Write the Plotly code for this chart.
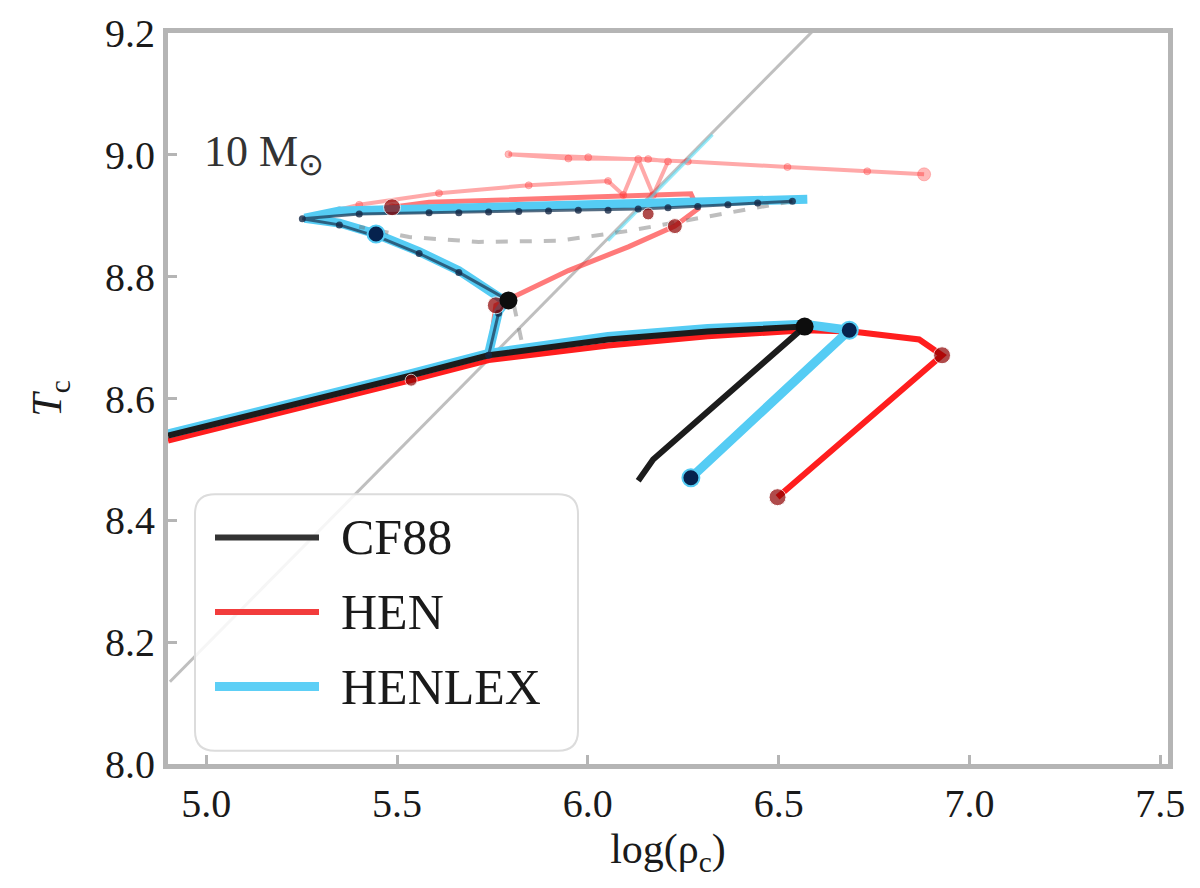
import plotly.graph_objects as go

# ---------------- data (log rho_c, log T_c) ----------------
deg_logrho = [4.905, 6.60]
deg_logT = [8.135, 9.21]

# CF88 (black)
cf_low_x = [6.132, 6.171, 6.568, 6.314, 6.053, 5.845, 5.740, 5.532, 5.271, 4.900]
cf_low_y = [8.465, 8.500, 8.718, 8.710, 8.697, 8.681, 8.671, 8.637, 8.596, 8.539]
cf_up_x = [5.740, 5.766, 5.792, 5.662, 5.558, 5.453, 5.349, 5.252, 5.401, 5.584, 5.662,
           5.740, 5.819, 5.897, 5.975, 6.053, 6.132, 6.210, 6.288, 6.367, 6.445, 6.536]
cf_up_y = [8.671, 8.740, 8.761, 8.807, 8.838, 8.865, 8.885, 8.895, 8.903, 8.905, 8.905,
           8.906, 8.907, 8.908, 8.909, 8.909, 8.911, 8.913, 8.915, 8.918, 8.921, 8.924]
cf_faint_x = [6.536, 6.314, 6.106, 5.923, 5.714, 5.532, 5.401, None, 5.806, 5.832]
cf_faint_y = [8.924, 8.898, 8.875, 8.859, 8.857, 8.865, 8.882, None, 8.754, 8.678]
cf_dot_x = [6.568, 5.792]
cf_dot_y = [8.718, 8.761]

# HENLEX (light blue)
hx_low_x = [6.270, 6.685, 6.568, 6.314, 6.053, 5.845, 5.740, 5.532, 5.271, 4.900]
hx_low_y = [8.470, 8.712, 8.722, 8.715, 8.702, 8.684, 8.674, 8.640, 8.599, 8.542]
hx_up_x = [5.740, 5.766, 5.785, 5.662, 5.558, 5.445, 5.349, 5.258, 5.349, 5.532, 5.792, 6.053, 6.314, 6.575]
hx_up_y = [8.674, 8.743, 8.759, 8.810, 8.841, 8.870, 8.888, 8.896, 8.908, 8.911, 8.913, 8.916, 8.922, 8.927]
hx_faint_x = [6.053, 6.327]
hx_faint_y = [8.859, 9.033]
hx_dot_x = [6.270, 6.685, 5.445]
hx_dot_y = [8.470, 8.712, 8.870]

# HEN (red)
hen_low_x = [6.497, 6.928, 6.868, 6.784, 6.693, 6.568, 6.314, 6.053, 5.845, 5.740, 5.537, 5.271, 4.900]
hen_low_y = [8.438, 8.671, 8.697, 8.704, 8.710, 8.712, 8.702, 8.687, 8.671, 8.663, 8.630, 8.588, 8.531]
hen_up_x = [5.740, 5.759, 5.949, 6.106, 6.228, 6.288, 6.270, 6.053, 5.792, 5.584, 5.487]
hen_up_y = [8.663, 8.753, 8.810, 8.849, 8.883, 8.911, 8.936, 8.931, 8.927, 8.922, 8.914]
hen_faint_x = [5.487, 5.349, 5.271, 5.401, 5.610, 5.845, 6.053, 6.093, 6.132, 6.171, 6.210,
               6.158, 5.949, 5.792, 6.001, 6.262, 6.523, 6.732, 6.881]
hen_faint_y = [8.914, 8.909, 8.898, 8.918, 8.937, 8.950, 8.957, 8.934, 8.993, 8.934, 8.989,
               8.993, 8.994, 9.001, 8.996, 8.989, 8.980, 8.973, 8.968]
hen_faint_size = [7] * 18 + [13]
hen_dot_x = [6.497, 6.928, 5.759, 6.228, 6.158, 5.487, 5.537]
hen_dot_y = [8.438, 8.671, 8.753, 8.883, 8.903, 8.914, 8.630]
hen_dot_size = [17, 17, 17, 15, 12, 17, 12]

x_ticks = [5.0, 5.5, 6.0, 6.5, 7.0, 7.5]
y_ticks = [8.0, 8.2, 8.4, 8.6, 8.8, 9.0, 9.2]

legend_names = ["CF88", "HEN", "HENLEX"]
legend_colors = ["#333333", "#f23c3c", "#5dcff6"]
legend_widths = [6, 6, 9]

BLACK = "#1c1c1c"
RED = "#ff1e1e"
CYAN = "#55ccf4"
FONT = "Liberation Serif"

fig = go.Figure()

# degeneracy-like reference line
fig.add_trace(go.Scatter(x=deg_logrho, y=deg_logT, mode="lines",
                         line=dict(color="rgba(170,170,170,0.75)", width=3),
                         showlegend=False, hoverinfo="skip"))

# HEN
fig.add_trace(go.Scatter(x=hen_faint_x, y=hen_faint_y, mode="lines+markers",
                         line=dict(color="rgba(255,40,40,0.40)", width=4),
                         marker=dict(size=hen_faint_size, color="rgba(255,40,40,0.45)"),
                         showlegend=False, name="HEN"))
fig.add_trace(go.Scatter(x=hen_low_x, y=hen_low_y, mode="lines",
                         line=dict(color=RED, width=6), showlegend=False, name="HEN"))
fig.add_trace(go.Scatter(x=hen_up_x, y=hen_up_y, mode="lines",
                         line=dict(color="rgba(255,50,50,0.65)", width=5),
                         showlegend=False, name="HEN"))

# HENLEX
fig.add_trace(go.Scatter(x=hx_faint_x, y=hx_faint_y, mode="lines",
                         line=dict(color="rgba(85,220,245,0.6)", width=3),
                         showlegend=False, name="HENLEX"))
fig.add_trace(go.Scatter(x=hx_low_x, y=hx_low_y, mode="lines",
                         line=dict(color=CYAN, width=9), showlegend=False, name="HENLEX"))
fig.add_trace(go.Scatter(x=hx_up_x, y=hx_up_y, mode="lines",
                         line=dict(color=CYAN, width=9), showlegend=False, name="HENLEX"))

# CF88
fig.add_trace(go.Scatter(x=cf_faint_x, y=cf_faint_y, mode="lines",
                         line=dict(color="rgba(110,110,110,0.45)", width=4, dash="dash"),
                         showlegend=False, name="CF88"))
fig.add_trace(go.Scatter(x=cf_low_x, y=cf_low_y, mode="lines",
                         line=dict(color=BLACK, width=6), showlegend=False, name="CF88"))
fig.add_trace(go.Scatter(x=cf_up_x, y=cf_up_y, mode="lines+markers",
                         line=dict(color="rgba(30,60,90,0.75)", width=3),
                         marker=dict(size=7, color="rgba(20,40,70,0.8)"),
                         showlegend=False, name="CF88"))

# key points
fig.add_trace(go.Scatter(x=hen_dot_x, y=hen_dot_y, mode="markers",
                         marker=dict(size=hen_dot_size, color="#8e0000"),
                         showlegend=False, name="HEN"))
fig.add_trace(go.Scatter(x=hx_dot_x, y=hx_dot_y, mode="markers",
                         marker=dict(size=17, color="#06224e", line=dict(color=CYAN, width=2)),
                         showlegend=False, name="HENLEX"))
fig.add_trace(go.Scatter(x=cf_dot_x, y=cf_dot_y, mode="markers",
                         marker=dict(size=18, color="#0d0d0d"),
                         showlegend=False, name="CF88"))

# ---------------- manual legend ----------------
x0, x1, y0, y1 = 0.027, 0.410, 0.018, 0.369
rx, ry = 0.02, 0.027
path = (f"M{x0+rx},{y0} L{x1-rx},{y0} Q{x1},{y0} {x1},{y0+ry} L{x1},{y1-ry} "
        f"Q{x1},{y1} {x1-rx},{y1} L{x0+rx},{y1} Q{x0},{y1} {x0},{y1-ry} "
        f"L{x0},{y0+ry} Q{x0},{y0} {x0+rx},{y0} Z")
shapes = [dict(type="path", path=path, xref="paper", yref="paper",
               fillcolor="rgba(255,255,255,0.85)", line=dict(color="#dcdcdc", width=2),
               layer="above")]
annotations = []
leg_y = [0.310, 0.208, 0.106]
for name, col, w, yy in zip(legend_names, legend_colors, legend_widths, leg_y):
    shapes.append(dict(type="line", xref="paper", yref="paper", x0=0.047, x1=0.151,
                       y0=yy, y1=yy, line=dict(color=col, width=w), layer="above"))
    annotations.append(dict(x=0.171, y=yy, xref="paper", yref="paper", text=name,
                            showarrow=False, xanchor="left", yanchor="middle",
                            font=dict(family=FONT, size=50, color="#1a1a1a")))

annotations.append(dict(x=4.99, y=9.0, xref="x", yref="y", text="10 M<sub>⊙</sub>",
                        showarrow=False, xanchor="left", yanchor="middle",
                        font=dict(family=FONT, size=44, color="#333333")))

axis_common = dict(showgrid=False, zeroline=False, showline=True, mirror=True,
                   linecolor="#b5b5b5", linewidth=5, ticks="inside", ticklen=9,
                   tickwidth=3, tickcolor="#b5b5b5", automargin=False,
                   tickfont=dict(family=FONT, size=40, color="#1a1a1a"))

fig.update_layout(
    width=1200, height=888,
    margin=dict(l=160, r=40, t=25, b=132),
    paper_bgcolor="white", plot_bgcolor="white",
    shapes=shapes, annotations=annotations,
    xaxis=dict(range=[4.9, 7.52], tickvals=x_ticks, tickformat=".1f",
               title=dict(text="log(ρ<sub>c</sub>)", standoff=10,
                          font=dict(family=FONT, size=42, color="#1a1a1a")),
               **axis_common),
    yaxis=dict(range=[8.0, 9.2], tickvals=y_ticks, tickformat=".1f",
               title=dict(text="<i>T</i><sub>c</sub>", standoff=32,
                          font=dict(family=FONT, size=42, color="#1a1a1a")),
               **axis_common),
)

fig.write_html("out.html")
